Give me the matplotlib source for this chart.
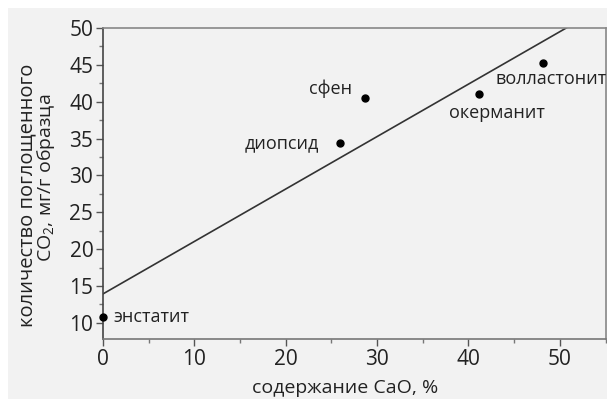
import numpy as np
import matplotlib
matplotlib.use("Agg")
import matplotlib.pyplot as plt
from matplotlib.patches import Rectangle
from matplotlib.ticker import MultipleLocator

plt.rcParams['font.family'] = ['Open Sans', 'DejaVu Sans']
plt.rcParams['mathtext.fontset'] = 'custom'
plt.rcParams['mathtext.rm'] = 'Open Sans'

# минералы: содержание CaO (%) и поглощение CO2 (мг/г)
minerals = ['энстатит', 'диопсид', 'сфен', 'окерманит', 'волластонит']
cao = [0.0, 25.9, 28.7, 41.1, 48.2]
co2 = [10.8, 34.4, 40.5, 41.0, 45.3]

# смещения подписей (пиксели) и выравнивание
label_off = [(10, 0), (-21, 0), (-13, 9), (18, -19), (8, -16)]
label_ha = ['left', 'right', 'right', 'center', 'center']

W, H = 607, 399
fig = plt.figure(figsize=(W / 100, H / 100), dpi=100, facecolor='white')
bg = '#f2f2f2'
fig.patches.append(Rectangle((8 / W, 0), 1, 1 - 8 / H, transform=fig.transFigure,
                             facecolor=bg, edgecolor='none', zorder=-10))

ax = fig.add_axes([103 / W, 1 - 339 / H, (605.5 - 103) / W, (339 - 28) / H])
ax.set_facecolor(bg)

# линия регрессии
k, b = np.polyfit(cao, co2, 1)
xx = np.array([0, 55])
ax.plot(xx, k * xx + b, color='#333333', lw=1.2, zorder=2)

ax.plot(cao, co2, 'o', color='black', ms=5, clip_on=False, zorder=3)
for name, x, y, off, ha in zip(minerals, cao, co2, label_off, label_ha):
    ax.annotate(name, (x, y), xytext=off, textcoords='offset pixels',
                ha=ha, va='center', fontsize=13, color='#222222')

ax.set_xlim(0, 55)
ax.set_ylim(7.8, 50)
ax.xaxis.set_major_locator(MultipleLocator(10))
ax.xaxis.set_minor_locator(MultipleLocator(5))
ax.yaxis.set_major_locator(MultipleLocator(5))
ax.yaxis.set_minor_locator(MultipleLocator(2.5))
ax.tick_params(which='major', length=5, width=1, color='#555555',
               labelsize=15, labelcolor='#222222', pad=2)
ax.tick_params(which='minor', length=3, width=1, color='#777777')

ax.spines['left'].set_color('#444444')
ax.spines['bottom'].set_color('#777777')
ax.spines['top'].set_color('#888888')
ax.spines['right'].set_color('#888888')
for s in ax.spines.values():
    s.set_linewidth(1.2)

fig.text(345 / W, 1 - 388 / H, 'содержание CaO, %', ha='center', va='center',
         fontsize=14, color='#222222')
fig.text(27 / W, 1 - 195 / H, 'количество поглощенного', rotation=90,
         ha='center', va='center', fontsize=14.5, color='#222222')
fig.text(46 / W, 1 - 178 / H, 'CO$_2$, мг/г образца', rotation=90,
         ha='center', va='center', fontsize=14, color='#222222')

fig.savefig('out.png', dpi=100, facecolor=fig.get_facecolor())
